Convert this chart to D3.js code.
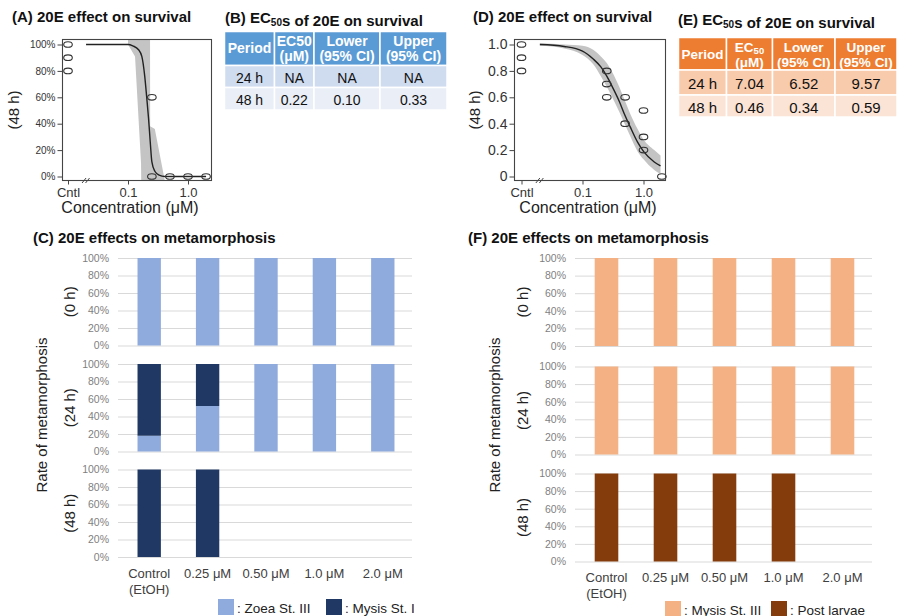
<!DOCTYPE html>
<html>
<head>
<meta charset="utf-8">
<script src="https://cdn.jsdelivr.net/npm/d3@7"></script>
<style>
  body { margin: 0; background: #fff; }
  svg { display: block; }
</style>
</head>
<body>
<script>
// ---- data ----
// survival panels (A: left, D: right); control plotted at the "Cntl" slot
const ctrlA = [1.0, 0.9, 0.8];
const doseA = [[0.25, 0.6], [0.25, 0.0], [0.5, 0.0], [1.0, 0.0], [2.0, 0.0]];
const fitA = [[0.02, 1.0], [0.1, 1.0], [0.12, 0.99], [0.15, 0.96], [0.17, 0.91], [0.19, 0.76],
              [0.205, 0.6], [0.22, 0.44], [0.235, 0.26], [0.25, 0.11], [0.28, 0.04], [0.33, 0.01],
              [0.41, 0.0], [2.0, 0.0]];
const bandA = [[0.1, 1.0, 1.04], [0.131, 0.91, 1.04], [0.165, 0.1, 1.04], [0.166, -0.03, 1.04],
               [0.233, -0.03, 1.04], [0.234, -0.03, 0.38], [0.28, -0.03, 0.36], [0.41, -0.03, -0.03]];

const ctrlD = [1.0, 0.9, 0.8];
const doseD = [[0.25, 0.8], [0.25, 0.7], [0.25, 0.6], [0.5, 0.6], [0.5, 0.4],
               [1.0, 0.5], [1.0, 0.3], [1.0, 0.2], [2.0, 0.0]];
const fitD = [[0.02, 1.0], [0.05, 0.985], [0.1, 0.95], [0.15, 0.89], [0.2, 0.83], [0.25, 0.76],
              [0.3, 0.69], [0.4, 0.57], [0.5, 0.46], [0.6, 0.38], [0.8, 0.26], [1.0, 0.19],
              [1.5, 0.11], [1.9, 0.08]];
const bandD = [[0.02, 0.99, 1.01], [0.05, 0.97, 1.0], [0.1, 0.92, 0.99], [0.15, 0.85, 0.96],
               [0.2, 0.76, 0.91], [0.25, 0.68, 0.86], [0.3, 0.61, 0.8], [0.4, 0.49, 0.68],
               [0.5, 0.39, 0.57], [0.6, 0.31, 0.48], [0.8, 0.19, 0.36], [1.0, 0.13, 0.28],
               [1.5, 0.05, 0.2], [1.9, 0.02, 0.16]];

const survTicks = [0, 0.2, 0.4, 0.6, 0.8, 1.0];
const concTicks = [0.01, 0.1, 1.0];

// EC50 tables
const tableHeads = [["Period"], ["EC50", "(μM)"], ["Lower", "(95% CI)"], ["Upper", "(95% CI)"]];
const tableB = [["24 h", "NA", "NA", "NA"], ["48 h", "0.22", "0.10", "0.33"]];
const tableE = [["24 h", "7.04", "6.52", "9.57"], ["48 h", "0.46", "0.34", "0.59"]];

// metamorphosis panels
const doseLabels = [["Control", "(EtOH)"], ["0.25 μM"], ["0.50 μM"], ["1.0 μM"], ["2.0 μM"]];
const periods = ["(0 h)", "(24 h)", "(48 h)"];
const rateTicks = [0, 0.2, 0.4, 0.6, 0.8, 1.0];
const zoeaIII = [[1, 1, 1, 1, 1], [0.18, 0.52, 1, 1, 1], [0, 0, 0, 0, 0]];
const mysisI = [[0, 0, 0, 0, 0], [0.82, 0.48, 0, 0, 0], [1, 1, 0, 0, 0]];
const mysisIII = [[1, 1, 1, 1, 1], [1, 1, 1, 1, 1], [0, 0, 0, 0, 0]];
const postLarvae = [[0, 0, 0, 0, 0], [0, 0, 0, 0, 0], [1, 1, 1, 1, 0]];

const svg = d3.select("body").append("svg")
  .attr("width", 897).attr("height", 616)
  .style("font-family", "'Liberation Sans', Arial, sans-serif");

// ---- titles ----
function title(x, y, parts) {
  const t = svg.append("text").attr("x", x).attr("y", y)
    .attr("font-size", 15).attr("font-weight", "bold").attr("fill", "#111");
  parts.forEach(p => {
    if (typeof p === "string") t.append("tspan").text(p);
    else t.append("tspan").attr("font-size", 10).attr("dy", p.dy).text(p.t);
  });
}
title(12, 22, ["(A) 20E effect on survival"]);
title(225, 23, ["(B) EC", {t: "50", dy: 3}, {t: "", dy: -3}, "s of 20E on survival"]);
title(473, 22, ["(D) 20E effect on survival"]);
title(678, 25, ["(E) EC", {t: "50", dy: 3}, {t: "", dy: -3}, "s of 20E on survival"]);
title(33, 243, ["(C) 20E effects on metamorphosis"]);
title(468, 243, ["(F) 20E effects on metamorphosis"]);

// ---- survival dose-response panels ----
function survPanel(o) {
  const g = svg.append("g");
  const x = d3.scaleLog().domain([0.01, 2]).range([o.cntlX, o.cntlX + o.decade * Math.log10(200)]);
  const y = d3.scaleLinear().domain([0, 1]).range([176.5, 44.5]);

  // confidence band and fitted curve
  g.append("path").datum(o.band)
    .attr("fill", "#c4c4c4")
    .attr("d", d3.area().x(d => x(d[0])).y0(d => y(d[1])).y1(d => y(d[2]))
      .curve(o.smoothBand ? d3.curveMonotoneX : d3.curveLinear));
  g.append("path").datum(o.fit)
    .attr("fill", "none").attr("stroke", "#222").attr("stroke-width", 1.4)
    .attr("d", d3.line().x(d => x(d[0])).y(d => y(d[1])).curve(d3.curveMonotoneX));

  // observations
  const pts = o.ctrl.map(v => [0.01, v]).concat(o.dose);
  g.selectAll("ellipse").data(pts).join("ellipse")
    .attr("cx", d => x(d[0])).attr("cy", d => y(d[1]))
    .attr("rx", 4.3).attr("ry", 2.8)
    .attr("fill", "none").attr("stroke", "#333").attr("stroke-width", 1.1);

  // frame
  g.append("rect").attr("x", o.box[0]).attr("y", 39.5)
    .attr("width", o.box[1] - o.box[0]).attr("height", 141)
    .attr("fill", "none").attr("stroke", "#444").attr("stroke-width", 1.1);

  const ya = g.append("g").attr("transform", `translate(${o.box[0]},0)`)
    .call(d3.axisLeft(y).tickValues(survTicks).tickSize(5).tickPadding(2).tickFormat(o.yFmt));
  ya.select(".domain").remove();
  ya.selectAll("line").attr("stroke", "#444");
  ya.selectAll("text").attr("font-size", o.yFont).attr("fill", "#333").attr("font-family", null);

  const xa = g.append("g").attr("transform", "translate(0,180.5)")
    .call(d3.axisBottom(x).tickValues(concTicks).tickSize(4).tickPadding(3)
      .tickFormat(d => d === 0.01 ? "Cntl" : d.toFixed(1)));
  xa.select(".domain").remove();
  xa.selectAll("line").attr("stroke", "#444");
  xa.selectAll("text").attr("font-size", 13).attr("fill", "#333").attr("font-family", null);

  // axis break mark
  const bx = x(0.02);
  [-2, 1.5].forEach(dx => {
    g.append("line").attr("x1", bx + dx - 2).attr("y1", 183)
      .attr("x2", bx + dx + 2).attr("y2", 178).attr("stroke", "#444").attr("stroke-width", 1);
  });

  g.append("text").attr("x", o.labelX).attr("y", 213).attr("text-anchor", "middle")
    .attr("font-size", 16).attr("fill", "#222").text("Concentration (μM)");
  g.append("text").attr("transform", `translate(${o.sideX},110) rotate(-90)`)
    .attr("text-anchor", "middle").attr("font-size", 15).attr("fill", "#222").text("(48 h)");
}

survPanel({cntlX: 68, decade: 60, box: [62.5, 211.5], ctrl: ctrlA, dose: doseA, fit: fitA,
  band: bandA, smoothBand: false, yFmt: d3.format(".0%"), yFont: 10, labelX: 130, sideX: 19});
survPanel({cntlX: 521.5, decade: 61, box: [514.5, 665.5], ctrl: ctrlD, dose: doseD, fit: fitD,
  band: bandD, smoothBand: true, yFmt: d => d === 0 ? "0" : d.toFixed(1), yFont: 14,
  labelX: 588, sideX: 480});

// ---- EC50 tables ----
function ecTable(o) {
  const g = svg.append("g");
  const cx = o.cols, ry = o.rows;
  // header
  tableHeads.forEach((h, i) => {
    g.append("rect").attr("x", cx[i]).attr("y", ry[0])
      .attr("width", cx[i + 1] - cx[i]).attr("height", ry[1] - ry[0])
      .attr("fill", o.head).attr("stroke", "#fff").attr("stroke-width", 1.5);
    const mid = (cx[i] + cx[i + 1]) / 2;
    if (h.length === 1) {
      g.append("text").attr("x", mid).attr("y", ry[0] + 21.5).attr("text-anchor", "middle")
        .attr("font-size", o.headFont).attr("font-weight", "bold").attr("fill", "#fff").text(h[0]);
    } else {
      h.forEach((line, k) => {
        const t = g.append("text").attr("x", mid).attr("y", ry[0] + 14 + k * 15)
          .attr("text-anchor", "middle").attr("font-size", o.headFont)
          .attr("font-weight", "bold").attr("fill", "#fff");
        if (o.subEC && line === "EC50") {
          t.append("tspan").text("EC");
          t.append("tspan").attr("font-size", 9.5).attr("dy", 2).text("50");
        } else t.text(line);
      });
    }
  });
  // body
  o.data.forEach((row, r) => {
    row.forEach((v, i) => {
      g.append("rect").attr("x", cx[i]).attr("y", ry[r + 1])
        .attr("width", cx[i + 1] - cx[i]).attr("height", ry[r + 2] - ry[r + 1])
        .attr("fill", o.body[r]).attr("stroke", "#fff").attr("stroke-width", 1.5);
      g.append("text").attr("x", (cx[i] + cx[i + 1]) / 2).attr("y", (ry[r + 1] + ry[r + 2]) / 2 + o.dy)
        .attr("text-anchor", "middle").attr("font-size", o.font).attr("fill", "#111").text(v);
    });
  });
}
ecTable({cols: [224.5, 274.5, 314, 380, 447], rows: [31.5, 65.5, 87.5, 110],
  head: "#5b9bd5", body: ["#cfdbef", "#e9eef7"], data: tableB, font: 14, dy: 6,
  headFont: 14, subEC: false});
ecTable({cols: [678.5, 726.5, 772.5, 835, 897], rows: [37.5, 70, 95, 117],
  head: "#ed7d31", body: ["#f8cbad", "#fbe4d6"], data: tableE, font: 15, dy: 6.5,
  headFont: 13.5, subEC: true});

// ---- metamorphosis stacked bars ----
function metaPanel(o) {
  const g = svg.append("g");
  const x = d3.scaleBand().domain(d3.range(doseLabels.length)).range(o.xr)
    .paddingInner(0.6).paddingOuter(0.3);
  const w = o.xr[1] - o.xr[0];

  periods.forEach((p, pi) => {
    const top = o.tops[pi];
    const y = d3.scaleLinear().domain([0, 1]).range([top + o.h, top]);
    const ax = g.append("g").attr("transform", `translate(${o.xr[0] - 2},0)`)
      .call(d3.axisLeft(y).tickValues(rateTicks).tickSize(-(w + 2)).tickPadding(9)
        .tickFormat(d3.format(".0%")));
    ax.select(".domain").remove();
    ax.selectAll("line").attr("stroke", "#d9d9d9");
    ax.selectAll("text").attr("font-size", 10.5).attr("fill", "#7f7f7f").attr("font-family", null);

    const rows = doseLabels.map((d, i) => {
      const r = {i: i};
      o.keys.forEach((k, ki) => r[k] = o.series[ki][pi][i]);
      return r;
    });
    const stacked = d3.stack().keys(o.keys)(rows);
    stacked.forEach((s, ki) => {
      g.append("g").selectAll("rect").data(s.filter(d => d[1] > d[0])).join("rect")
        .attr("x", d => x(d.data.i)).attr("width", x.bandwidth())
        .attr("y", d => y(d[1])).attr("height", d => y(d[0]) - y(d[1]))
        .attr("fill", o.colors[ki]);
    });

    g.append("text").attr("transform", `translate(${o.periodX},${top + o.h / 2}) rotate(-90)`)
      .attr("text-anchor", "middle").attr("font-size", 15).attr("fill", "#222").text(p);
  });

  g.append("text").attr("transform", `translate(${o.rateX},415) rotate(-90)`)
    .attr("text-anchor", "middle").attr("font-size", 15).attr("fill", "#222")
    .text("Rate of metamorphosis");

  doseLabels.forEach((lines, i) => {
    lines.forEach((l, k) => {
      g.append("text").attr("x", x(i) + x.bandwidth() / 2).attr("y", o.labelY + k * 16)
        .attr("text-anchor", "middle").attr("font-size", 13).attr("fill", "#404040").text(l);
    });
  });

  o.legend.forEach((lg, k) => {
    g.append("rect").attr("x", lg.x).attr("y", o.legY - 9).attr("width", 16).attr("height", 16)
      .attr("fill", o.colors[k]);
    g.append("text").attr("x", lg.x + 19).attr("y", o.legY + 4.5)
      .attr("font-size", 13.5).attr("fill", "#222").text(": " + o.names[k]);
  });
}

metaPanel({xr: [120, 412], tops: [258, 364, 469.5], h: 87.5, keys: ["zoea", "mysis"],
  series: [zoeaIII, mysisI], colors: ["#8faadc", "#203864"], names: ["Zoea St. III", "Mysis St. I"],
  periodX: 75, rateX: 47, labelY: 578, legY: 608, legend: [{x: 218}, {x: 326}]});
metaPanel({xr: [577, 872], tops: [258, 366.5, 473.5], h: 88, keys: ["m3", "pl"],
  series: [mysisIII, postLarvae], colors: ["#f4b183", "#843c0c"], names: ["Mysis St. III", "Post larvae"],
  periodX: 528, rateX: 500, labelY: 582, legY: 610, legend: [{x: 665}, {x: 771}]});
</script>
</body>
</html>
